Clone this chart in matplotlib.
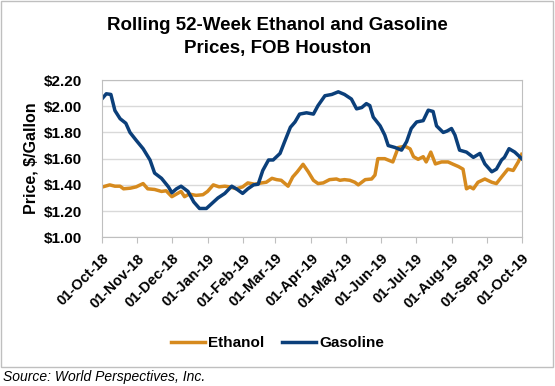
import matplotlib
matplotlib.use("Agg")
import matplotlib.pyplot as plt
import matplotlib.dates as mdates
import pandas as pd

plt.rcParams['font.family'] = ['Liberation Sans', 'DejaVu Sans']

start = pd.Timestamp("2018-10-01")

# days after 01-Oct-18, price $/gal
gas_days = [1, 4, 8, 11.5, 16, 21, 24.6, 30, 36, 42, 46, 52, 58, 61, 65, 69, 75, 80, 85, 91,
            96, 101, 107, 113, 117, 122.5, 127, 132, 136, 140, 145, 149, 155, 159, 164, 168,
            172, 178, 184, 188, 194, 200, 205.6, 211, 217, 221.5, 226, 230, 233, 236, 242,
            246, 249, 255, 260.6, 265, 269, 273.7, 279.4, 283.8, 288, 291, 296.8, 300, 304,
            307, 311, 317, 323, 328.7, 333, 339, 343, 347.5, 350, 354, 359, 365]
gas_vals = [2.064, 2.095, 2.09, 1.967, 1.905, 1.87, 1.80, 1.74, 1.676, 1.59, 1.49, 1.45, 1.385,
            1.34, 1.37, 1.39, 1.35, 1.27, 1.22, 1.22, 1.26, 1.30, 1.335, 1.39, 1.37, 1.335,
            1.37, 1.40, 1.405, 1.51, 1.59, 1.59, 1.64, 1.73, 1.84, 1.88, 1.94, 1.95, 1.94,
            2.005, 2.08, 2.09, 2.11, 2.09, 2.055, 1.98, 1.99, 2.02, 2.005, 1.917, 1.85, 1.78,
            1.70, 1.685, 1.665, 1.73, 1.83, 1.88, 1.89, 1.97, 1.96, 1.85, 1.80, 1.81, 1.83,
            1.78, 1.665, 1.65, 1.61, 1.64, 1.56, 1.50, 1.52, 1.59, 1.61, 1.676, 1.65, 1.60]

eth_days = [1, 7, 11.5, 16, 19, 25, 30, 36, 40, 46, 52, 56, 61, 65, 69, 72, 76, 82, 88, 92, 97,
            102, 107, 111, 117, 122.5, 127, 133, 139, 143, 148, 152, 156, 162, 166, 170, 175,
            179.5, 184, 188, 192.5, 198, 204, 207, 211, 215.7, 220, 223, 229, 234.6, 237.5,
            240, 246, 253, 257.7, 263.5, 268, 271, 275, 279.4, 282, 286, 290, 295.4, 301,
            305.5, 310, 314, 317, 320, 323, 327, 333, 339, 343, 347.5, 353, 357.6, 362, 365]
eth_vals = [1.385, 1.40, 1.39, 1.39, 1.37, 1.375, 1.385, 1.41, 1.37, 1.365, 1.35, 1.355, 1.31,
            1.33, 1.35, 1.31, 1.33, 1.32, 1.325, 1.35, 1.40, 1.385, 1.39, 1.385, 1.37, 1.385,
            1.415, 1.405, 1.415, 1.42, 1.45, 1.44, 1.435, 1.39, 1.46, 1.50, 1.557, 1.50, 1.435,
            1.41, 1.415, 1.44, 1.445, 1.435, 1.44, 1.435, 1.42, 1.40, 1.44, 1.445, 1.475, 1.60,
            1.60, 1.575, 1.685, 1.695, 1.675, 1.615, 1.595, 1.615, 1.575, 1.65, 1.56, 1.575,
            1.575, 1.557, 1.54, 1.52, 1.37, 1.385, 1.37, 1.42, 1.445, 1.42, 1.41, 1.46, 1.52,
            1.51, 1.575, 1.633]

gas_dates = start + pd.to_timedelta(gas_days, unit="D")
eth_dates = start + pd.to_timedelta(eth_days, unit="D")
month_ticks = pd.date_range("2018-10-01", "2019-10-01", freq="MS")

fig = plt.figure(figsize=(5.55, 3.86), dpi=100)
ax = fig.add_axes([0.1832, 0.3852, 0.7568, 0.4075])

ax.plot(eth_dates, eth_vals, color="#D68A1E", lw=2.5, label="Ethanol")
ax.plot(gas_dates, gas_vals, color="#0B3F7A", lw=2.5, label="Gasoline")

ax.set_xlim(start, pd.Timestamp("2019-10-01"))
ax.set_ylim(1.0, 2.2)
ax.set_yticks([1.0, 1.2, 1.4, 1.6, 1.8, 2.0, 2.2])
ax.set_yticklabels(["$%.2f" % v for v in [1.0, 1.2, 1.4, 1.6, 1.8, 2.0, 2.2]],
                   fontweight="bold", fontsize=11)
ax.set_xticks(month_ticks)
ax.xaxis.set_major_formatter(mdates.DateFormatter("%d-%b-%y"))
for lab in ax.get_xticklabels():
    lab.set_rotation(45)
    lab.set_ha("right")
    lab.set_rotation_mode("anchor")
    lab.set_fontweight("bold")
    lab.set_fontsize(10.5)

ax.grid(axis="y", color="#D9D9D9", lw=1)
ax.set_axisbelow(True)
for s in ax.spines.values():
    s.set_color("#BFBFBF")
ax.tick_params(axis="y", length=0, pad=14)
ax.tick_params(axis="x", length=4, color="#BFBFBF", pad=6)

ax.set_ylabel("Price, $/Gallon", fontweight="bold", fontsize=11.5, labelpad=4)

fig.text(0.5, 0.935, "Rolling 52-Week Ethanol and Gasoline", ha="center", va="center",
         fontsize=13.5, fontweight="bold")
fig.text(0.5, 0.875, "Prices, FOB Houston", ha="center", va="center",
         fontsize=13.5, fontweight="bold")

ax.legend(loc="center", bbox_to_anchor=(0.5, 0.111), bbox_transform=fig.transFigure,
          ncol=2, frameon=False, prop={"weight": "bold", "size": 11},
          handlelength=2.2, handletextpad=0.2, columnspacing=1.2)

fig.patches.append(plt.Rectangle((0.002, 0.05), 0.994, 0.947, transform=fig.transFigure,
                                 fill=False, edgecolor="#BFBFBF", lw=1))
fig.text(0.005, 0.023, "Source: World Perspectives, Inc.", ha="left", va="center",
         fontsize=10, style="italic")

fig.savefig("out.png", dpi=100)
